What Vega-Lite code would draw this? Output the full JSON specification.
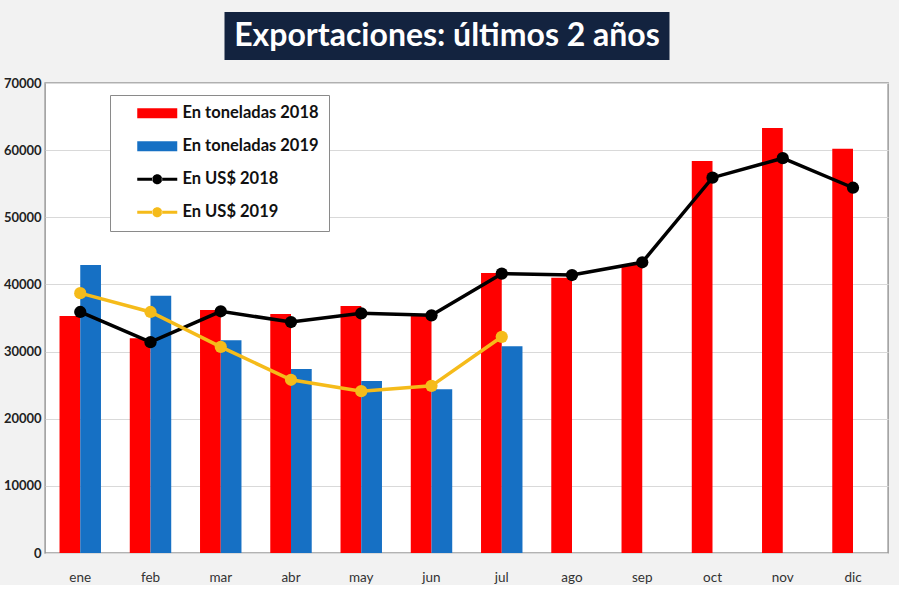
{
  "$schema": "https://vega.github.io/schema/vega-lite/v6.json",
  "background": "#f2f2f2",
  "padding": {"left": 2, "top": 12, "right": 10, "bottom": 0},
  "config": {
    "font": "Lato",
    "view": {"stroke": null}
  },
  "datasets": {
    "toneladas": [
      {"mes": "ene", "serie": "En toneladas 2018", "valor": 35300},
      {"mes": "feb", "serie": "En toneladas 2018", "valor": 32000},
      {"mes": "mar", "serie": "En toneladas 2018", "valor": 36200},
      {"mes": "abr", "serie": "En toneladas 2018", "valor": 35600},
      {"mes": "may", "serie": "En toneladas 2018", "valor": 36800},
      {"mes": "jun", "serie": "En toneladas 2018", "valor": 35400},
      {"mes": "jul", "serie": "En toneladas 2018", "valor": 41700},
      {"mes": "ago", "serie": "En toneladas 2018", "valor": 41000},
      {"mes": "sep", "serie": "En toneladas 2018", "valor": 42900},
      {"mes": "oct", "serie": "En toneladas 2018", "valor": 58400},
      {"mes": "nov", "serie": "En toneladas 2018", "valor": 63300},
      {"mes": "dic", "serie": "En toneladas 2018", "valor": 60200},
      {"mes": "ene", "serie": "En toneladas 2019", "valor": 42900},
      {"mes": "feb", "serie": "En toneladas 2019", "valor": 38300},
      {"mes": "mar", "serie": "En toneladas 2019", "valor": 31700},
      {"mes": "abr", "serie": "En toneladas 2019", "valor": 27400},
      {"mes": "may", "serie": "En toneladas 2019", "valor": 25600},
      {"mes": "jun", "serie": "En toneladas 2019", "valor": 24400},
      {"mes": "jul", "serie": "En toneladas 2019", "valor": 30800}
    ],
    "usd": [
      {"mes": "ene", "serie": "En US$ 2018", "valor": 35900},
      {"mes": "feb", "serie": "En US$ 2018", "valor": 31400},
      {"mes": "mar", "serie": "En US$ 2018", "valor": 36000},
      {"mes": "abr", "serie": "En US$ 2018", "valor": 34400},
      {"mes": "may", "serie": "En US$ 2018", "valor": 35700},
      {"mes": "jun", "serie": "En US$ 2018", "valor": 35400},
      {"mes": "jul", "serie": "En US$ 2018", "valor": 41600},
      {"mes": "ago", "serie": "En US$ 2018", "valor": 41400},
      {"mes": "sep", "serie": "En US$ 2018", "valor": 43300},
      {"mes": "oct", "serie": "En US$ 2018", "valor": 55900},
      {"mes": "nov", "serie": "En US$ 2018", "valor": 58800},
      {"mes": "dic", "serie": "En US$ 2018", "valor": 54400},
      {"mes": "ene", "serie": "En US$ 2019", "valor": 38700},
      {"mes": "feb", "serie": "En US$ 2019", "valor": 35900},
      {"mes": "mar", "serie": "En US$ 2019", "valor": 30700},
      {"mes": "abr", "serie": "En US$ 2019", "valor": 25800},
      {"mes": "may", "serie": "En US$ 2019", "valor": 24100},
      {"mes": "jun", "serie": "En US$ 2019", "valor": 24900},
      {"mes": "jul", "serie": "En US$ 2019", "valor": 32200}
    ],
    "titulo": [{"texto": "Exportaciones: últimos 2 años"}]
  },
  "vconcat": [
    {
      "width": 445,
      "height": 48,
      "view": {"fill": "#13233f", "stroke": null},
      "data": {"name": "titulo"},
      "mark": {"type": "text", "color": "white", "fontSize": 32, "fontWeight": "bold", "font": "Lato", "baseline": "middle", "align": "center"},
      "encoding": {
        "text": {"field": "texto"},
        "y": {"field": "texto", "type": "nominal", "axis": {"orient": "right", "title": null, "labels": false, "ticks": false, "domain": false, "grid": false, "minExtent": 40, "maxExtent": 40}}
      }
    },
    {
      "width": 843,
      "height": 470,
      "view": {"fill": "white", "stroke": "#9a9a9a", "strokeWidth": 1.5},
      "encoding": {
        "x": {
          "field": "mes", "type": "nominal",
          "sort": ["ene","feb","mar","abr","may","jun","jul","ago","sep","oct","nov","dic"],
          "scale": {"paddingInner": 0.41, "paddingOuter": 0.205},
          "axis": {"title": null, "labelAngle": 0, "ticks": false, "domain": false, "labelFontSize": 13.5, "labelColor": "#333", "labelPadding": 17, "labelFont": "Lato"}
        },
        "y": {
          "field": "valor", "type": "quantitative",
          "scale": {"domain": [0, 70000], "nice": false},
          "axis": {"title": null, "values": [0,10000,20000,30000,40000,50000,60000,70000], "format": "d", "ticks": false, "domain": false, "labelFontSize": 13, "labelFontWeight": "bold", "labelColor": "#222", "labelPadding": 4, "gridColor": "#d9d9d9", "labelFont": "Lato"}
        }
      },
      "layer": [
        {
          "data": {"name": "toneladas"},
          "mark": {"type": "bar"},
          "encoding": {
            "xOffset": {"field": "serie", "type": "nominal", "scale": {"domain": ["En toneladas 2018", "En toneladas 2019"], "paddingInner": 0, "paddingOuter": 0}},
            "color": {
              "field": "serie", "type": "nominal",
              "scale": {
                "domain": ["En toneladas 2018", "En toneladas 2019", "En US$ 2018", "En US$ 2019"],
                "range": ["#ff0000", "#1670c4", "#000000", "#f5bb1a"]
              },
              "legend": {
                "title": null,
                "orient": "none",
                "legendX": 65,
                "legendY": 83,
                "direction": "vertical",
                "fillColor": "white",
                "strokeColor": "#8a8a8a",
                "padding": 10,
                "symbolSize": 100,
                "rowPadding": 16,
                "labelOffset": 46,
                "labelFontSize": 16.5,
                "labelFont": "Lato",
                "labelFontWeight": "bold",
                "labelColor": "#111",
                "encode": {
                  "symbols": {
                    "update": {
                      "shape": {"signal": "indexof(datum.value, 'US$') >= 0 ? 'M1.8,-0.3H4.9V0.3H1.8Z M6.7,-0.3H9.8V0.3H6.7Z M4.8,0A1,1 0 1,0 6.8,0A1,1 0 1,0 4.8,0Z' : 'M1.8,-1H9.8V1H1.8Z'"},
                      "fill": {"scale": "color", "field": "value"},
                      "stroke": {"value": "transparent"},
                      "strokeWidth": {"value": 0},
                      "opacity": {"value": 1},
                      "fillOpacity": {"value": 1}
                    }
                  }
                }
              }
            }
          }
        },
        {
          "data": {"name": "usd"},
          "mark": {"type": "line", "strokeWidth": 3.5, "point": {"size": 150, "filled": true, "opacity": 1}},
          "encoding": {
            "color": {"field": "serie", "type": "nominal"}
          }
        }
      ]
    }
  ],
  "spacing": 16,
  "center": true
}
